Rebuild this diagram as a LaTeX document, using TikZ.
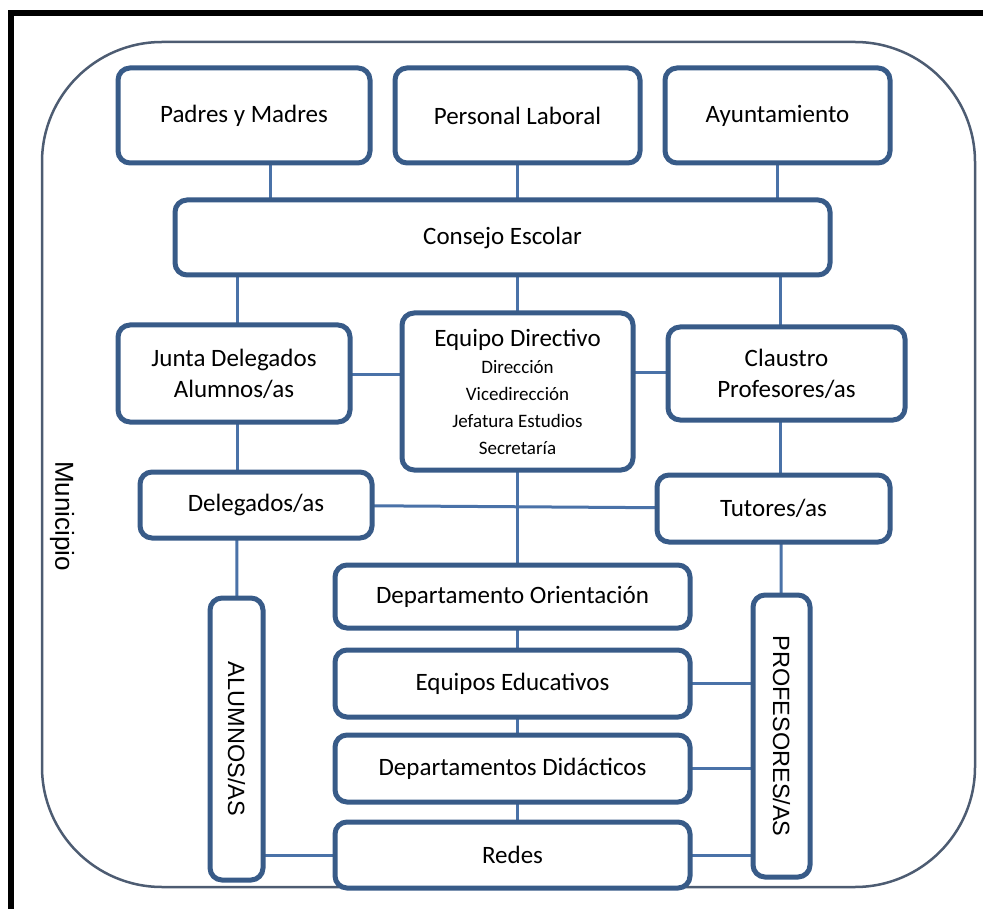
\documentclass[tikz,border=0pt]{standalone}
\usepackage{fontspec}
\setmainfont{Carlito}
\newfontfamily\widefont{Liberation Sans}
\usetikzlibrary{backgrounds}
\definecolor{boxline}{HTML}{385B88}
\definecolor{linkline}{HTML}{4A72A8}
\definecolor{frameline}{HTML}{4D5C72}
\tikzset{
  orgbox/.style={draw=boxline, line width=5pt, rounded corners=12pt, fill=white,
    inner sep=0pt, align=center, font=\fontsize{25}{31}\selectfont},
  sidebar/.style={orgbox, rotate=-90, font=\widefont\fontsize{23.5}{28}\selectfont},
  link/.style={draw=linkline, line width=3pt},
}
\begin{document}
\begin{tikzpicture}[x=1pt, y=-1pt]
  \useasboundingbox (0,0) rectangle (983,909);
  % outer black frame (top and left)
  \fill[black] (8,10) rectangle (983,16);
  \fill[black] (8,10) rectangle (14,909);

  % top row
  \node[orgbox, minimum width=252, minimum height=95] (padres)   at (244,115.5) {Padres y Madres};
  \node[orgbox, minimum width=245, minimum height=95] (personal) at (517.5,115.5) {Personal Laboral};
  \node[orgbox, minimum width=225, minimum height=95] (ayto)     at (777.5,115.5) {Ayuntamiento};
  % school council
  \node[orgbox, minimum width=655, minimum height=75] (consejo)  at (502.5,237.5) {Consejo Escolar};
  % second row
  \node[orgbox, minimum width=232, minimum height=97] (junta)    at (234,373.5) {Junta Delegados\\Alumnos/as};
  \node[orgbox, minimum width=231, minimum height=157, font=\fontsize{19}{27}\selectfont] (equipo) at (517.5,391.5)
    {{\fontsize{25}{31}\selectfont Equipo Directivo}\\Dirección\\Vicedirección\\Jefatura Estudios\\Secretaría};
  \node[orgbox, minimum width=237, minimum height=93] (claustro) at (786.5,373.5) {Claustro\\Profesores/as};
  % third row
  \node[orgbox, minimum width=232, minimum height=66] (delegados) at (256,505) {Delegados/as};
  \node[orgbox, minimum width=233, minimum height=67] (tutores)   at (773.5,508.5) {Tutores/as};
  % central stack
  \node[orgbox, minimum width=355, minimum height=63] (orienta)  at (512.5,596.5) {Departamento Orientación};
  \node[orgbox, minimum width=355, minimum height=67] (educ)     at (512.5,683.5) {Equipos Educativos};
  \node[orgbox, minimum width=355, minimum height=67] (didac)    at (512.5,768.5) {Departamentos Didácticos};
  \node[orgbox, minimum width=355, minimum height=66] (redes)    at (512.5,855) {Redes};
  % vertical side bars
  \node[sidebar, minimum width=282, minimum height=53] (alumnos) at (236.5,739) {ALUMNOS/AS};
  \node[sidebar, minimum width=282, minimum height=57] (profes)  at (781.5,736) {PROFESORES/AS};
  % municipality label
  \node[rotate=-90, font=\widefont\fontsize{26}{30}\selectfont] (municipio) at (62,516) {Municipio};

  \begin{scope}[on background layer]
    % municipality boundary
    \draw[frameline, line width=2.5pt, rounded corners=120pt] (42,42) rectangle (975,887);
    % connectors
    \draw[link] (270,0 |- padres.center) -- (270,0 |- consejo.center);
    \draw[link] (personal.center) -- (personal.center |- consejo.center);
    \draw[link] (ayto.center) -- (ayto.center |- consejo.center);
    \draw[link] (237,0 |- consejo.center) -- (237,0 |- junta.center);
    \draw[link] (517,0 |- consejo.center) -- (517,0 |- equipo.center);
    \draw[link] (780,0 |- consejo.center) -- (780,0 |- claustro.center);
    \draw[link] (junta.center |- 0,375) -- (equipo.center |- 0,375);
    \draw[link] (equipo.center |- 0,373) -- (claustro.center |- 0,373);
    \draw[link] (237,0 |- junta.center) -- (237,0 |- delegados.center);
    \draw[link] (780,0 |- claustro.center) -- (780,0 |- tutores.center);
    \draw[link] (delegados.center) -- (tutores.center);
    \draw[link] (517,0 |- equipo.center) -- (517,0 |- orienta.center);
    \draw[link] (517,0 |- orienta.center) -- (517,0 |- educ.center);
    \draw[link] (517,0 |- educ.center) -- (517,0 |- didac.center);
    \draw[link] (517,0 |- didac.center) -- (517,0 |- redes.center);
    \draw[link] (237,0 |- delegados.center) -- (alumnos.center);
    \draw[link] (781,0 |- tutores.center) -- (profes.center);
    \draw[link] (educ.center) -- (educ.center -| profes.center);
    \draw[link] (didac.center) -- (didac.center -| profes.center);
    \draw[link] (redes.center) -- (redes.center -| profes.center);
    \draw[link] (redes.center) -- (redes.center -| alumnos.center);
  \end{scope}
\end{tikzpicture}
\end{document}
